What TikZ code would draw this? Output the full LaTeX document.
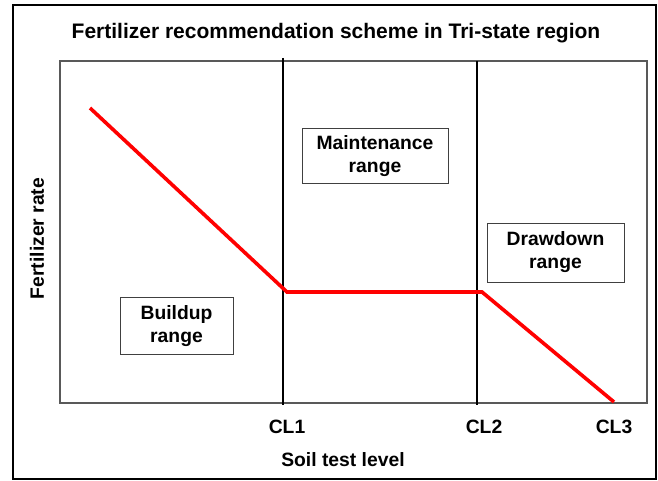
\documentclass[tikz,border=0pt]{standalone}
\usepackage{fontspec}
\setmainfont{Liberation Sans}
\begin{document}
\begin{tikzpicture}[x=1pt, y=-1pt,
    lbl/.style={font=\bfseries\fontsize{19.3}{23}\selectfont, align=center, inner sep=0pt},
    rangebox/.style={lbl, draw=black!75, line width=0.9pt, fill=white, minimum height=57pt},
    level/.style={line width=2.4pt},
    rate/.style={red, line width=3.6pt}]
    \useasboundingbox (0,0) rectangle (658,481);
    % outer frame
    \draw[line width=2.2pt] (13,5) rectangle (656,479);
    % plot area
    \draw[black!65, line width=1.3pt] (60,61) rectangle (647,403);
    % critical levels
    \coordinate (top1) at (283,58);
    \coordinate (bot1) at (283,405);
    \coordinate (top2) at (477,61);
    \coordinate (bot2) at (477,405);
    \draw[level] (top1) -- (bot1);
    \draw[level] (top2) -- (bot2);
    % fertilizer rate line
    \coordinate (start) at (90,108);
    \coordinate (kink1) at (287,292);
    \coordinate (kink2) at (482,292);
    \coordinate (stop) at (614,402);
    \draw[rate] (start) -- (kink1) -- (kink2) -- (stop);
    % ranges
    \node[rangebox, minimum width=113pt] (buildup) at (176.5,326) {Buildup\\range};
    \node[rangebox, minimum width=146pt, minimum height=55pt] (maint) at (375,156) {Maintenance\\range};
    \node[rangebox, minimum width=137pt, minimum height=59pt] (drawdown) at (555.5,252.5) {Drawdown\\range};
    % labels
    \node[lbl, font=\bfseries\fontsize{21}{24}\selectfont] (title) at (336,33) {Fertilizer recommendation scheme in Tri-state region};
    \node[lbl, rotate=90] (ylab) at (37,238.5) {Fertilizer rate};
    \node[lbl] (cl1) at (287,427) {CL1};
    \node[lbl] (cl2) at (484,427) {CL2};
    \node[lbl] (cl3) at (614,427) {CL3};
    \node[lbl] (xlab) at (343,460) {Soil test level};
\end{tikzpicture}
\end{document}
